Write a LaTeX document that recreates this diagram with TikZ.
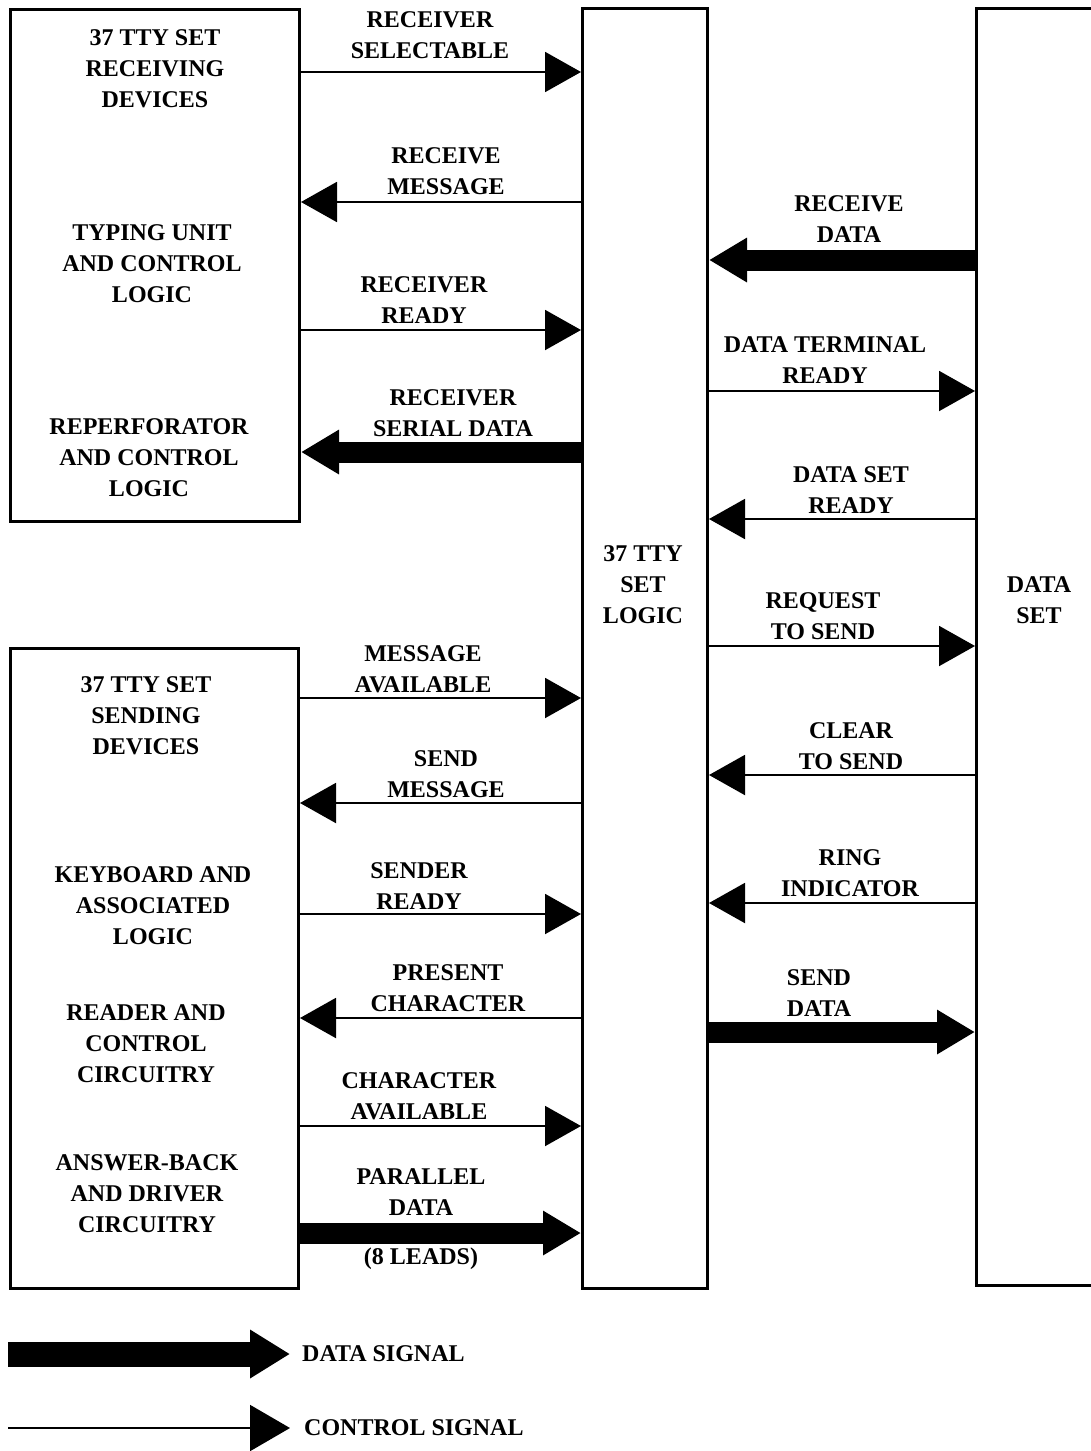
\documentclass[tikz,border=0pt]{standalone}
\usepackage{fontspec}
\setmainfont{Liberation Serif}
\usetikzlibrary{arrows.meta}
\begin{document}
\begin{tikzpicture}[x=1pt,y=-1pt,
  blk/.style={draw,line width=3pt,inner sep=0pt,anchor=north west},
  txt/.style={align=center,inner sep=0pt,font=\fontsize{24}{31}\selectfont\bfseries},
  ctl/.style={line width=2pt,-{Triangle[length=36pt,width=40pt]}},
  dat/.style={line width=21pt,-{Triangle[length=38pt,width=42pt]}},
]
\useasboundingbox (0,0) rectangle (1090,1451);
% boxes
\node[blk,minimum width=289pt,minimum height=512pt] (rcv) at (9,8) {};
\node[blk,minimum width=288pt,minimum height=640pt] (snd) at (9,647) {};
\node[blk,minimum width=125pt,minimum height=1280pt] (logic) at (581,7) {};
\node[blk,minimum width=140pt,minimum height=1277pt] (dset) at (975,7) {};
% box texts
\node[txt] (t1) at (155,69) {37 TTY SET\\RECEIVING\\DEVICES};
\node[txt] (t2) at (152,264) {TYPING UNIT\\AND CONTROL\\LOGIC};
\node[txt] (t3) at (149,458) {REPERFORATOR\\AND CONTROL\\LOGIC};
\node[txt] (t4) at (146,716) {37 TTY SET\\SENDING\\DEVICES};
\node[txt] (t5) at (153,906) {KEYBOARD AND\\ASSOCIATED\\LOGIC};
\node[txt] (t6) at (146,1043.5) {READER AND\\CONTROL\\CIRCUITRY};
\node[txt] (t7) at (147,1194) {ANSWER-BACK\\AND DRIVER\\CIRCUITRY};
\node[txt] (t8) at (643,585) {37 TTY\\SET\\LOGIC};
\node[txt] (t9) at (1039,600.5) {DATA\\SET};
% left connectors
\draw[ctl] (rcv.east |- 0,72) -- (logic.west |- 0,72);
\draw[ctl] (logic.west |- 0,202) -- (rcv.east |- 0,202);
\draw[ctl] (rcv.east |- 0,330) -- (logic.west |- 0,330);
\draw[dat] (logic.west |- 0,452) -- (rcv.east |- 0,452);
\draw[ctl] (snd.east |- 0,698) -- (logic.west |- 0,698);
\draw[ctl] (logic.west |- 0,803) -- (snd.east |- 0,803);
\draw[ctl] (snd.east |- 0,914) -- (logic.west |- 0,914);
\draw[ctl] (logic.west |- 0,1018) -- (snd.east |- 0,1018);
\draw[ctl] (snd.east |- 0,1126) -- (logic.west |- 0,1126);
\draw[dat] (snd.east |- 0,1233) -- (logic.west |- 0,1233);
% right connectors
\draw[dat] (dset.west |- 0,260) -- (logic.east |- 0,260);
\draw[ctl] (logic.east |- 0,391) -- (dset.west |- 0,391);
\draw[ctl] (dset.west |- 0,519) -- (logic.east |- 0,519);
\draw[ctl] (logic.east |- 0,646) -- (dset.west |- 0,646);
\draw[ctl] (dset.west |- 0,775) -- (logic.east |- 0,775);
\draw[ctl] (dset.west |- 0,903) -- (logic.east |- 0,903);
\draw[dat] (logic.east |- 0,1032) -- (dset.west |- 0,1032);
% left labels
\node[txt] (a1) at (430,35.5) {RECEIVER\\SELECTABLE};
\node[txt] (a2) at (446,171.5) {RECEIVE\\MESSAGE};
\node[txt] (a3) at (424,300.5) {RECEIVER\\READY};
\node[txt] (a4) at (453,413.5) {RECEIVER\\SERIAL DATA};
\node[txt] (a5) at (423,669.5) {MESSAGE\\AVAILABLE};
\node[txt] (a6) at (446,774.5) {SEND\\MESSAGE};
\node[txt] (a7) at (419,886.5) {SENDER\\READY};
\node[txt] (a8) at (448,988) {PRESENT\\CHARACTER};
\node[txt] (a9) at (419,1096.5) {CHARACTER\\AVAILABLE};
\node[txt] (a10) at (421,1192.5) {PARALLEL\\DATA};
\node[txt] (a11) at (421,1259) {(8 LEADS)};
% right labels
\node[txt] (b1) at (849,219.5) {RECEIVE\\DATA};
\node[txt] (b2) at (825,360.5) {DATA TERMINAL\\READY};
\node[txt] (b3) at (851,490.5) {DATA SET\\READY};
\node[txt] (b4) at (823,616) {REQUEST\\TO SEND};
\node[txt] (b5) at (851,746.5) {CLEAR\\TO SEND};
\node[txt] (b6) at (850,873) {RING\\INDICATOR};
\node[txt] (b7) at (819,993.5) {SEND\\DATA};
% legend
\coordinate (d0) at (8,1354);
\coordinate (d1) at (290,1354);
\coordinate (c0) at (8,1428);
\coordinate (c1) at (290,1428);
\draw[dat,line width=25pt,-{Triangle[length=40pt,width=46pt]}] (d0) -- (d1);
\draw[ctl,-{Triangle[length=40pt,width=46pt]}] (c0) -- (c1);
\node[txt,anchor=west] (ld) at (302,1354) {DATA SIGNAL};
\node[txt,anchor=west] (lc) at (304,1428) {CONTROL SIGNAL};
\end{tikzpicture}
\end{document}
